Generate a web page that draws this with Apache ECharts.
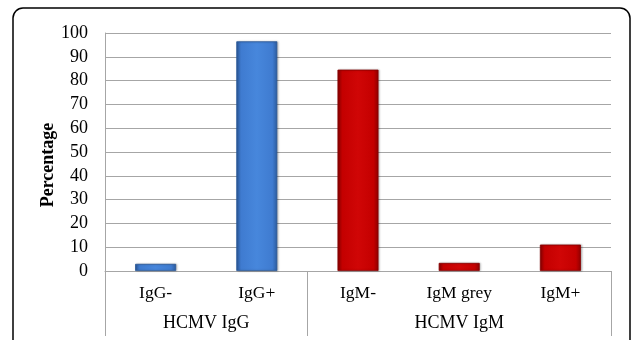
<!DOCTYPE html>
<html>
<head>
<meta charset="utf-8">
<script src="https://cdn.jsdelivr.net/npm/echarts@6/dist/echarts.min.js"></script>
<style>
  html, body { margin: 0; padding: 0; background: #fff; }
  #chart { width: 634px; height: 340px; }
</style>
</head>
<body>
<div id="chart"></div>
<script>
// Antibody result categories and their share of samples (%)
var categories = ['IgG-', 'IgG+', 'IgM-', 'IgM grey', 'IgM+'];
var percentages = [3, 96.5, 84.6, 3.4, 11.1];
// Which test each category belongs to (0 = IgG, 1 = IgM)
var groupOf = [0, 0, 1, 1, 1];
var groupNames = ['HCMV IgG', 'HCMV IgM'];
// Group boundaries and label centres on a 0..5 scale matching the category slots
var groupBounds = [0, 2, 5];
var groupCenters = [1, 3.5];
var yTicks = [0, 10, 20, 30, 40, 50, 60, 70, 80, 90, 100];
var yTitle = 'Percentage';

var FONT = '"Liberation Serif", "Times New Roman", serif';

function barStyle(g) {
  if (g === 0) {
    return new echarts.graphic.LinearGradient(0, 0, 1, 0, [
      { offset: 0, color: '#2c5c9f' },
      { offset: 0.12, color: '#3f7bd0' },
      { offset: 0.5, color: '#4787dc' },
      { offset: 0.88, color: '#3f7bd0' },
      { offset: 1, color: '#2c5c9f' }
    ]);
  }
  return new echarts.graphic.LinearGradient(0, 0, 1, 0, [
    { offset: 0, color: '#8e0000' },
    { offset: 0.12, color: '#c40000' },
    { offset: 0.5, color: '#d00606' },
    { offset: 0.88, color: '#c40000' },
    { offset: 1, color: '#8e0000' }
  ]);
}

var chart = echarts.init(document.getElementById('chart'), null, { renderer: 'canvas' });

chart.setOption({
  animation: false,
  backgroundColor: '#ffffff',
  graphic: [{
    type: 'rect',
    shape: { x: 13, y: 8, width: 617, height: 420, r: 10 },
    style: { fill: 'none', stroke: '#000', lineWidth: 1.5 },
    z: 100
  }, {
    // vertical axis title
    type: 'text',
    x: 48, y: 165,
    rotation: Math.PI / 2,
    style: {
      text: yTitle,
      font: 'bold 18px ' + FONT,
      fill: '#000',
      align: 'center',
      verticalAlign: 'middle'
    }
  }],
  grid: { left: 105, right: 23, top: 33, bottom: 69, containLabel: false },
  xAxis: [{
    type: 'category',
    data: categories,
    boundaryGap: true,
    axisLine: { show: true, lineStyle: { color: '#a6a6a6', width: 1 } },
    axisTick: { show: false },
    axisLabel: { color: '#000', fontFamily: FONT, fontSize: 17.5, margin: 13 }
  }, {
    type: 'value',
    position: 'bottom',
    min: 0, max: 5,
    axisLine: { show: false },
    splitLine: { show: false },
    axisTick: {
      show: true, length: 65, inside: false,
      customValues: groupBounds,
      lineStyle: { color: '#a6a6a6', width: 1 }
    },
    axisLabel: {
      show: true, margin: 43,
      customValues: groupCenters,
      color: '#000', fontFamily: FONT, fontSize: 18,
      formatter: function (v) { return groupNames[groupCenters.indexOf(v)]; }
    }
  }],
  yAxis: {
    type: 'value',
    min: yTicks[0], max: yTicks[yTicks.length - 1], interval: 10,
    axisLine: { show: true, lineStyle: { color: '#a6a6a6', width: 1 } },
    axisTick: { show: false },
    axisLabel: { color: '#000', fontFamily: FONT, fontSize: 18, margin: 17 },
    splitLine: { show: true, lineStyle: { color: '#a6a6a6', width: 1 } }
  },
  series: [{
    type: 'bar',
    xAxisIndex: 0,
    barWidth: 41,
    data: percentages.map(function (v, i) {
      return {
        value: v,
        itemStyle: {
          color: barStyle(groupOf[i]),
          borderColor: groupOf[i] === 0 ? '#2a5898' : '#880000',
          borderWidth: 0.8,
          shadowColor: 'rgba(0,0,0,0.25)',
          shadowBlur: 2,
          shadowOffsetX: 1
        }
      };
    })
  }]
});
</script>
</body>
</html>
